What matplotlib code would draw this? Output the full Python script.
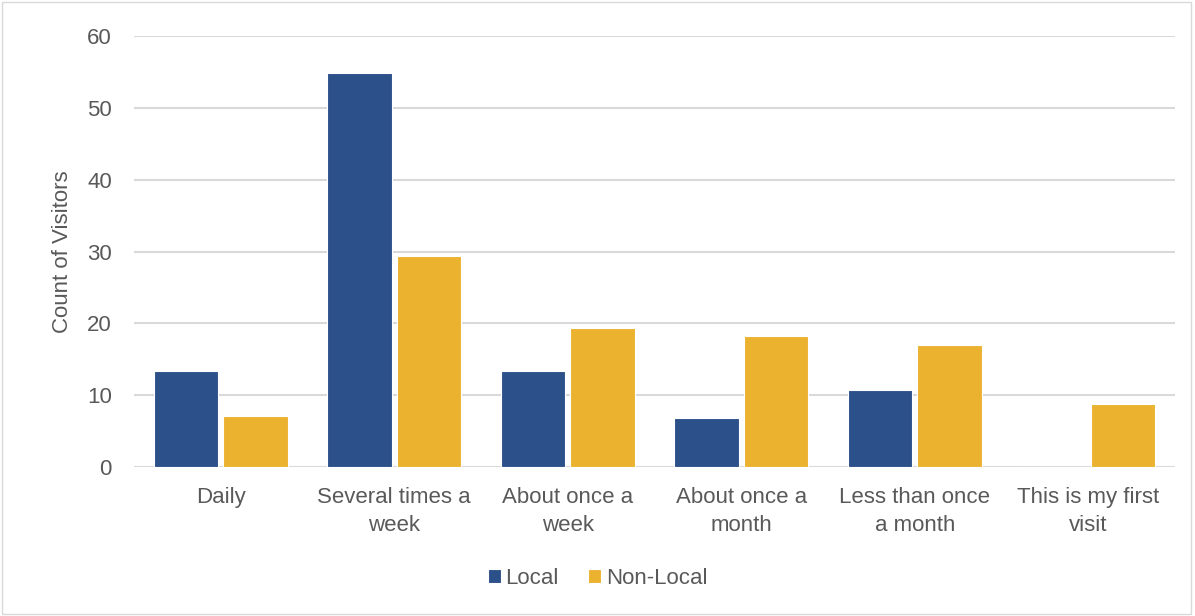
from matplotlib import pyplot as plt
from matplotlib.patches import Rectangle
import numpy as np

categories = ["Daily", "Several times a\nweek", "About once a\nweek",
              "About once a\nmonth", "Less than once\na month", "This is my first\nvisit"]
local = [13.4, 54.8, 13.4, 6.8, 10.7, 0]
non_local = [7.2, 29.4, 19.3, 18.2, 17.0, 8.8]
yticks = [0, 10, 20, 30, 40, 50, 60]

blue = "#2C508A"
yellow = "#EAB22E"
grey_text = "#595959"

plt.rcParams['font.family'] = ['Liberation Sans', 'DejaVu Sans']

fig = plt.figure(figsize=(11.95, 6.16), dpi=100)
ax = fig.add_axes([134 / 1195, 1 - 467.3 / 616, (1175 - 134) / 1195, (467.3 - 35.7) / 616])

x = np.arange(len(categories))
w = 0.37
ax.bar(x - 0.2, local, w, color=blue, edgecolor="white", linewidth=0.8, label="Local", zorder=3)
ax.bar(x + 0.2, non_local, w, color=yellow, edgecolor="white", linewidth=0.8, label="Non-Local", zorder=3)

ax.set_xlim(-0.5, len(categories) - 0.5)
ax.set_ylim(0, 60)
ax.set_yticks(yticks)
ax.set_xticks(x)
ax.set_xticklabels(categories, fontsize=16, color=grey_text, linespacing=1.45)
ax.tick_params(axis="y", labelsize=16, labelcolor=grey_text, length=0, pad=16)
ax.tick_params(axis="x", length=0, pad=14)
ax.yaxis.grid(True, color="#D9D9D9", linewidth=1.5, zorder=0)
for s in ax.spines.values():
    s.set_visible(False)
ax.set_ylabel("Count of Visitors", fontsize=16, color=grey_text, labelpad=10)

fig.legend(loc="center", bbox_to_anchor=(0.5, 1 - 578 / 616), ncol=2, frameon=False,
           fontsize=16, labelcolor=grey_text, handlelength=0.6, handleheight=0.6,
           handletextpad=0.2, columnspacing=1.3)

fig.patches.append(Rectangle((0.002, 0.003), 0.995, 0.994, transform=fig.transFigure,
                             fill=False, edgecolor="#D9D9D9", linewidth=1))

plt.savefig("out.png", dpi=100)
